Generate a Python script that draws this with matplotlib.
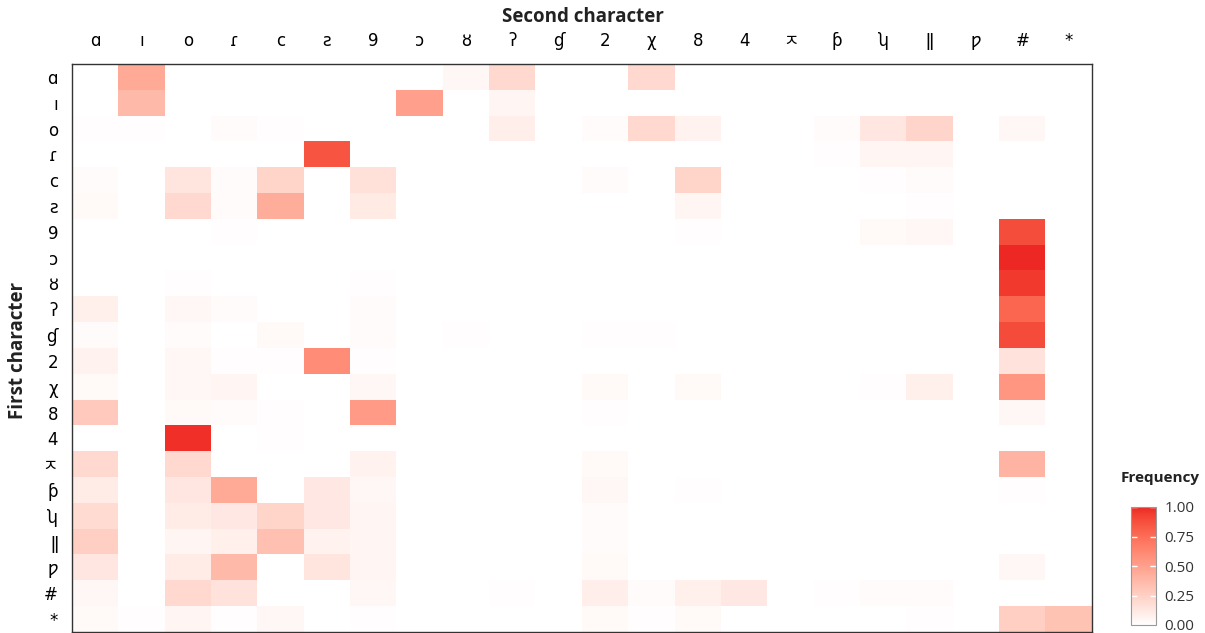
import numpy as np
import matplotlib
matplotlib.use("Agg")
import matplotlib.pyplot as plt
from matplotlib.colors import ListedColormap

# glyph lookalikes for the manuscript characters
chars = ['ɑ', 'ı', 'o', 'ɾ', 'c', 'ƨ', '9', 'ɔ', 'ȣ', 'ʔ', 'ɠ', '2', 'χ', '8', '4',
         'ㅈ', 'ƥ', 'ʮ', 'ǁ', 'ƿ', '#', '*']

# frequency[first][second]
frequency = [
    [0, .45, 0, 0, 0, 0, 0, 0, .04, .20, 0, 0, .20, 0, 0, 0, 0, 0, 0, 0, 0, 0],
    [0, .37, 0, 0, 0, 0, 0, .50, 0, .05, 0, 0, 0, 0, 0, 0, 0, 0, 0, 0, 0, 0],
    [.01, .01, 0, .02, .01, 0, 0, 0, 0, .09, 0, .02, .20, .07, 0, 0, .02, .13, .22, 0, .04, 0],
    [0, 0, 0, 0, 0, .85, 0, 0, 0, 0, 0, 0, 0, 0, 0, 0, .01, .05, .05, 0, 0, 0],
    [.02, 0, .14, .02, .23, 0, .16, 0, 0, 0, 0, .02, 0, .23, 0, 0, 0, .01, .02, 0, 0, 0],
    [.03, 0, .20, .02, .43, 0, .11, 0, 0, 0, 0, 0, 0, .05, 0, 0, 0, 0, .01, 0, 0, 0],
    [0, 0, 0, .01, 0, 0, 0, 0, 0, 0, 0, 0, 0, .01, 0, 0, 0, .03, .04, 0, .88, 0],
    [0, 0, 0, 0, 0, 0, 0, 0, 0, 0, 0, 0, 0, 0, 0, 0, 0, 0, 0, 0, 1.0, 0],
    [0, 0, .01, 0, 0, 0, .01, 0, 0, 0, 0, 0, 0, 0, 0, 0, 0, 0, 0, 0, .95, 0],
    [.08, 0, .04, .02, 0, 0, .02, 0, 0, 0, 0, 0, 0, 0, 0, 0, 0, 0, 0, 0, .78, 0],
    [.02, 0, .02, 0, .03, 0, .02, 0, .01, 0, 0, .01, .01, 0, 0, 0, 0, 0, 0, 0, .89, 0],
    [.07, 0, .04, .01, .01, .60, .01, 0, 0, 0, 0, 0, 0, 0, 0, 0, 0, 0, 0, 0, .15, 0],
    [.03, 0, .04, .05, 0, 0, .04, 0, 0, 0, 0, .03, 0, .03, 0, 0, 0, .01, .08, 0, .55, 0],
    [.28, 0, .03, .02, .01, 0, .53, 0, 0, 0, 0, .01, 0, 0, 0, 0, 0, 0, 0, 0, .04, 0],
    [0, 0, .98, 0, .01, 0, 0, 0, 0, 0, 0, 0, 0, 0, 0, 0, 0, 0, 0, 0, 0, 0],
    [.20, 0, .20, 0, 0, 0, .07, 0, 0, 0, 0, .03, 0, 0, 0, 0, 0, 0, 0, 0, .40, 0],
    [.10, 0, .13, .45, 0, .12, .04, 0, 0, 0, 0, .04, 0, .01, 0, 0, 0, 0, 0, 0, .01, 0],
    [.19, 0, .10, .12, .23, .12, .05, 0, 0, 0, 0, .02, 0, 0, 0, 0, 0, 0, 0, 0, 0, 0],
    [.25, 0, .05, .08, .33, .07, .05, 0, 0, 0, 0, .02, 0, 0, 0, 0, 0, 0, 0, 0, 0, 0],
    [.13, 0, .10, .37, 0, .14, .05, 0, 0, 0, 0, .03, 0, 0, 0, 0, 0, 0, 0, 0, .04, 0],
    [.04, 0, .20, .15, 0, 0, .04, 0, 0, .01, 0, .09, .02, .08, .12, 0, .01, .02, .02, 0, 0, 0],
    [.03, .01, .05, .01, .04, 0, .01, 0, 0, 0, 0, .03, .01, .03, 0, 0, 0, 0, .01, 0, .25, .32],
]


# white -> red gradient interpolated in Lab, like ggplot's scale_fill_gradient
def srgb_to_lab(rgb):
    c = np.where(rgb > 0.04045, ((rgb + 0.055) / 1.055) ** 2.4, rgb / 12.92)
    m = np.array([[0.4124, 0.3576, 0.1805], [0.2126, 0.7152, 0.0722], [0.0193, 0.1192, 0.9505]])
    xyz = m @ c / np.array([0.95047, 1.0, 1.08883])
    f = np.where(xyz > 0.008856, np.cbrt(xyz), 7.787 * xyz + 16 / 116)
    return np.array([116 * f[1] - 16, 500 * (f[0] - f[1]), 200 * (f[1] - f[2])])


def lab_to_srgb(lab):
    fy = (lab[0] + 16) / 116
    fx = fy + lab[1] / 500
    fz = fy - lab[2] / 200
    f = np.array([fx, fy, fz])
    xyz = np.where(f > 0.206893, f ** 3, (f - 16 / 116) / 7.787) * np.array([0.95047, 1.0, 1.08883])
    m = np.array([[3.2406, -1.5372, -0.4986], [-0.9689, 1.8758, 0.0415], [0.0557, -0.2040, 1.0570]])
    c = m @ xyz
    c = np.where(c > 0.0031308, 1.055 * np.abs(c) ** (1 / 2.4) - 0.055, 12.92 * c)
    return np.clip(c, 0, 1)


lo = srgb_to_lab(np.array([1.0, 1.0, 1.0]))
hi = srgb_to_lab(np.array([238, 40, 36]) / 255)
cmap = ListedColormap([lab_to_srgb(lo + t * (hi - lo)) for t in np.linspace(0, 1, 256)])

plt.rcParams['font.family'] = ['Open Sans', 'DejaVu Sans']

fig = plt.figure(figsize=(12.05, 6.33), dpi=100)
ax = fig.add_axes([72 / 1205, 1 / 633, 1020 / 1205, 568 / 633])
im = ax.imshow(np.array(frequency), cmap=cmap, vmin=0, vmax=1, aspect='auto',
               interpolation='nearest')

ax.set_xticks(range(len(chars)))
ax.set_yticks(range(len(chars)))
ax.set_xticklabels(chars, family=['DejaVu Sans', 'Noto Sans CJK KR'], fontsize=12)
ax.set_yticklabels(chars, family=['DejaVu Sans', 'Noto Sans CJK KR'], fontsize=12)
ax.xaxis.tick_top()
ax.tick_params(length=0, pad=10)
for s in ax.spines.values():
    s.set_color('#333333')
    s.set_linewidth(1.0)

fig.text(583 / 1205, 1 - 17 / 633, 'Second character', ha='center', va='center',
         fontsize=13.5, fontweight='bold', color='#222222')
fig.text(18 / 1205, 1 - 350 / 633, 'First character', ha='center', va='center',
         rotation=90, fontsize=13.5, fontweight='bold', color='#222222')

cax = fig.add_axes([1131 / 1205, 8 / 633, 25 / 1205, 118 / 633])
cb = fig.colorbar(im, cax=cax, ticks=[0, 0.25, 0.5, 0.75, 1.0])
cb.ax.set_yticklabels(['0.00', '0.25', '0.50', '0.75', '1.00'])
cb.ax.tick_params(direction='in', colors='white', length=4, width=1, left=True, right=True,
                  labelcolor='#333333', labelsize=11, pad=6)
cb.outline.set_edgecolor('#999999')
cb.outline.set_linewidth(0.8)
fig.text(1160 / 1205, 1 - 478 / 633, 'Frequency', ha='center', va='center',
         fontsize=11, fontweight='bold', color='#222222')

fig.savefig('out.png', dpi=100)
